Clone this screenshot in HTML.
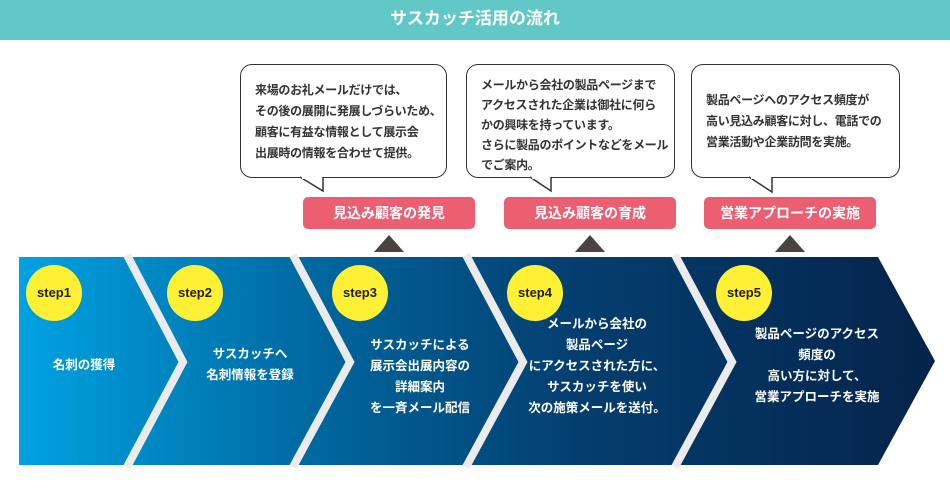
<!DOCTYPE html>
<html><head><meta charset="utf-8"><style>
body{margin:0;width:950px;height:497px;background:#fff;overflow:hidden;position:relative;font-family:"Liberation Sans","Noto Sans CJK JP",sans-serif}
.hdr{position:absolute;left:0;top:0;width:950px;height:40px;background:#62c8c7;color:#fff;font-weight:bold;font-size:17px;text-align:center;line-height:38px}
.box{position:absolute;top:64px;height:114px;border:1.5px solid #333;border-radius:12px;background:#fff;box-sizing:border-box;font-size:12px;font-weight:bold;color:#333;line-height:21px;padding:15px 0 0 14px;white-space:nowrap;letter-spacing:-0.3px}
.pink{position:absolute;top:197px;height:32px;border-radius:5px;background:#ec5e72;color:#fff;font-weight:bold;font-size:14px;text-align:center;line-height:32px}
.st{position:absolute;width:56px;height:56px;border-radius:50%;background:#fef035;color:#222;font-weight:bold;font-size:13px;text-align:center;line-height:56px}
.tx{position:absolute;color:#fff;font-weight:bold;font-size:12.5px;text-align:center;line-height:21px;transform:translateX(-50%);white-space:nowrap}
</style></head><body>
<div class="hdr">サスカッチ活用の流れ</div>
<svg width="950" height="497" style="position:absolute;left:0;top:0">
<defs><linearGradient id="g" x1="19" y1="0" x2="935" y2="0" gradientUnits="userSpaceOnUse">
<stop offset="0" stop-color="#00a2e2"/><stop offset="0.35" stop-color="#00639a"/><stop offset="0.6" stop-color="#043f70"/><stop offset="1" stop-color="#05234a"/></linearGradient></defs>
<polygon points="19,257 878,257 935,361 878,465 19,465" fill="url(#g)"/>
<g stroke="#ebebeb" stroke-width="8" fill="none">
<polyline points="127,255 183,362 127,467"/>
<polyline points="293,255 350,362 293,467"/>
<polyline points="466,255 523,362 466,467"/>
<polyline points="675,255 732,362 675,467"/>
</g>
<polygon points="374,252 404,252 389,235" fill="#4b4243"/>
<polygon points="575,252 605,252 590,235" fill="#4b4243"/>
<polygon points="775,252 805,252 790,235" fill="#4b4243"/>
</svg>
<div class="box" style="left:240px;width:207px">来場のお礼メールだけでは、<br>その後の展開に発展しづらいため、<br>顧客に有益な情報として展示会<br>出展時の情報を合わせて提供。</div>
<div class="box" style="left:466px;width:209px;padding-top:10px;line-height:20px">メールから会社の製品ページまで<br>アクセスされた企業は御社に何ら<br>かの興味を持っています。<br>さらに製品のポイントなどをメール<br>でご案内。</div>
<div class="box" style="left:691px;width:209px;padding-top:25px">製品ページへのアクセス頻度が<br>高い見込み顧客に対し、電話での<br>営業活動や企業訪問を実施。</div>
<svg width="950" height="497" style="position:absolute;left:0;top:0">
<g fill="#fff" stroke="#333" stroke-width="1.5">
<polyline points="300,177 323,191 323,177"/>
<polyline points="530,177 551,191 551,177"/>
<polyline points="749,177 772,192 772,177"/>
</g>
<g stroke="#fff" stroke-width="3"><line x1="302" y1="177.5" x2="322" y2="177.5"/><line x1="532" y1="177.5" x2="550" y2="177.5"/><line x1="751" y1="177.5" x2="771" y2="177.5"/></g>
</svg>
<div class="pink" style="left:303px;width:172px">見込み顧客の発見</div>
<div class="pink" style="left:504px;width:172px">見込み顧客の育成</div>
<div class="pink" style="left:704px;width:172px">営業アプローチの実施</div>
<div class="st" style="left:26px;top:265px">step1</div>
<div class="st" style="left:167px;top:265px">step2</div>
<div class="st" style="left:332px;top:265px">step3</div>
<div class="st" style="left:507px;top:265px">step4</div>
<div class="st" style="left:716px;top:265px">step5</div>
<div class="tx" style="left:84px;top:355px">名刺の獲得</div>
<div class="tx" style="left:250px;top:344px">サスカッチへ<br>名刺情報を登録</div>
<div class="tx" style="left:420px;top:335px">サスカッチによる<br>展示会出展内容の<br>詳細案内<br>を一斉メール配信</div>
<div class="tx" style="left:597px;top:314px">メールから会社の<br>製品ページ<br>にアクセスされた方に、<br>サスカッチを使い<br>次の施策メールを送付。</div>
<div class="tx" style="left:817px;top:324px">製品ページのアクセス<br>頻度の<br>高い方に対して、<br>営業アプローチを実施</div>
</body></html>
